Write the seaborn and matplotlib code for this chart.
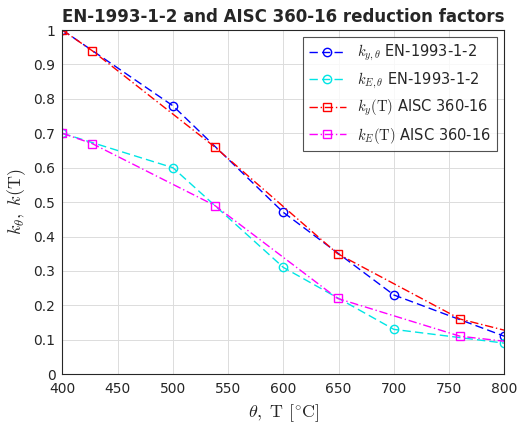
import numpy as np
import matplotlib
matplotlib.use('Agg')
import matplotlib.pyplot as plt
import seaborn as sns

# EN-1993-1-2 values
en_T = [400, 500, 600, 700, 800]
en_ky = [1.0, 0.78, 0.47, 0.23, 0.11]
en_kE = [0.70, 0.60, 0.31, 0.13, 0.09]
# AISC 360-16 values (°F steps converted to °C)
aisc_T = [400, 427, 538, 649, 760, 871]
aisc_ky = [1.0, 0.94, 0.66, 0.35, 0.16, 0.07]
aisc_kE = [0.70, 0.67, 0.49, 0.22, 0.11, 0.07]

sns.set_theme(style='whitegrid')
plt.rcParams['font.family'] = ['DejaVu Sans']
plt.rcParams['mathtext.fontset'] = 'cm'

fig, ax = plt.subplots(figsize=(5.2, 4.3), dpi=100)
ax.set_facecolor('white')
kw = dict(lw=1, ms=6, mfc='none', mew=1)
ax.plot(en_T, en_ky, color='#0000ff', ls=(0, (6, 3)), marker='o',
        label=r'$k_{y,\theta}$ EN-1993-1-2', **kw)
ax.plot(en_T, en_kE, color='#00e5e5', ls=(0, (6, 3)), marker='o',
        label=r'$k_{E,\theta}$ EN-1993-1-2', **kw)
ax.plot(aisc_T, aisc_ky, color='#ff0000', ls=(0, (6, 2, 1, 2)), marker='s',
        label=r'$k_y(\mathrm{T})$ AISC 360-16', **kw)
ax.plot(aisc_T, aisc_kE, color='#ff00ff', ls=(0, (6, 2, 1, 2)), marker='s',
        label=r'$k_E(\mathrm{T})$ AISC 360-16', **kw)

ax.set_xlim(400, 800)
ax.set_ylim(0, 1)
ax.set_xticks(np.arange(400, 801, 50))
ax.set_yticks(np.arange(0, 1.01, 0.1))
ax.set_yticklabels(['0', '0.1', '0.2', '0.3', '0.4', '0.5', '0.6', '0.7', '0.8', '0.9', '1'])
ax.tick_params(labelsize=10, length=3, direction='in', colors='#262626')
ax.tick_params(axis='x', pad=6)
ax.tick_params(axis='y', pad=5)
ax.grid(True, color='#dcdcdc', lw=0.7)
for s in ax.spines.values():
    s.set_color('#262626')
    s.set_linewidth(0.8)
ax.set_xlabel(r'$\theta,\ \mathrm{T}\ [^{\circ}\mathrm{C}]$', fontsize=13)
ax.set_ylabel(r'$k_{\theta},\ k(\mathrm{T})$', fontsize=13)
ax.set_title('EN-1993-1-2 and AISC 360-16 reduction factors', fontsize=12, fontweight='bold')
leg = ax.legend(loc='upper right', fontsize=10.5, frameon=True, fancybox=False,
                edgecolor='#262626', handlelength=2.5)
leg.get_frame().set_linewidth(0.8)
fig.subplots_adjust(left=0.12, right=0.97, top=0.93, bottom=0.13)
fig.savefig('out.png')
